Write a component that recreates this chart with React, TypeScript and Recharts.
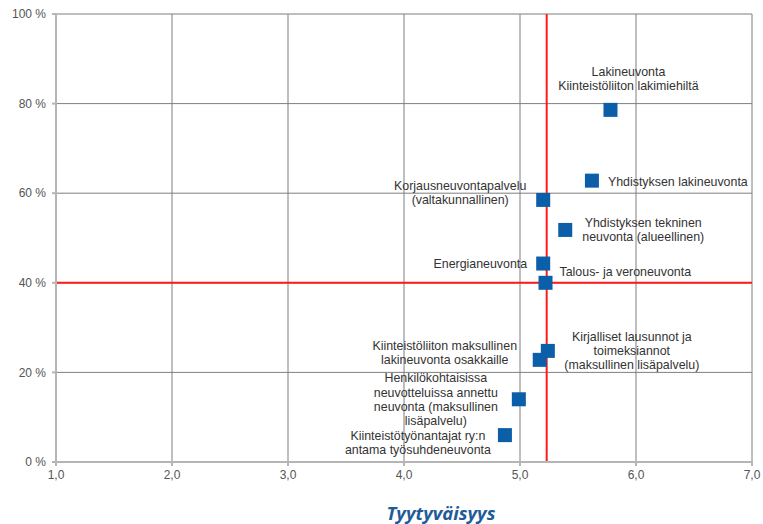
import React from 'react';
import { ScatterChart, Scatter, XAxis, YAxis, CartesianGrid, ReferenceLine, ZAxis } from 'recharts';

const services = [
  'Lakineuvonta Kiinteistöliiton lakimiehiltä',
  'Yhdistyksen lakineuvonta',
  'Korjausneuvontapalvelu (valtakunnallinen)',
  'Yhdistyksen tekninen neuvonta (alueellinen)',
  'Energianeuvonta',
  'Talous- ja veroneuvonta',
  'Kirjalliset lausunnot ja toimeksiannot (maksullinen lisäpalvelu)',
  'Kiinteistöliiton maksullinen lakineuvonta osakkaille',
  'Henkilökohtaisissa neuvotteluissa annettu neuvonta (maksullinen lisäpalvelu)',
  'Kiinteistötyönantajat ry:n antama työsuhdeneuvonta',
];
const satisfaction = [5.78, 5.62, 5.2, 5.39, 5.2, 5.22, 5.24, 5.17, 4.99, 4.87];
const usagePct = [78.6, 62.8, 58.5, 51.8, 44.3, 40.0, 24.8, 22.8, 14.0, 6.0];
const labelLines = [
  ['Lakineuvonta', 'Kiinteistöliiton lakimiehiltä'],
  ['Yhdistyksen lakineuvonta'],
  ['Korjausneuvontapalvelu', '(valtakunnallinen)'],
  ['Yhdistyksen tekninen', 'neuvonta (alueellinen)'],
  ['Energianeuvonta'],
  ['Talous- ja veroneuvonta'],
  ['Kirjalliset lausunnot ja', 'toimeksiannot', '(maksullinen lisäpalvelu)'],
  ['Kiinteistöliiton maksullinen', 'lakineuvonta osakkaille'],
  ['Henkilökohtaisissa', 'neuvotteluissa annettu', 'neuvonta (maksullinen', 'lisäpalvelu)'],
  ['Kiinteistötyönantajat ry:n', 'antama työsuhdeneuvonta'],
];
const xTicks = [1, 2, 3, 4, 5, 6, 7];
const yTicks = [0, 20, 40, 60, 80, 100];
const satisfactionMean = 5.23;
const usageMean = 40;
const xTitle = 'Tyytyväisyys';

// label placement relative to each marker (layout only)
const labelLayout: { anchor: 'start' | 'middle' | 'end'; dx: number; dy: number }[] = [
  { anchor: 'middle', dx: 18, dy: -38 },
  { anchor: 'start', dx: 16, dy: 1 },
  { anchor: 'middle', dx: -83, dy: -14 },
  { anchor: 'middle', dx: 78, dy: -7 },
  { anchor: 'end', dx: -16, dy: 0 },
  { anchor: 'start', dx: 14, dy: -11 },
  { anchor: 'middle', dx: 84, dy: -14 },
  { anchor: 'middle', dx: -95, dy: -14 },
  { anchor: 'middle', dx: -83, dy: -21 },
  { anchor: 'middle', dx: -87, dy: 1 },
];

const data = services.map((name, i) => ({
  name,
  x: satisfaction[i],
  y: usagePct[i],
  idx: i,
}));

const FONT = '"Liberation Sans", Arial, sans-serif';
const LINE_H = 14.3;

const PointShape = (props: any) => {
  const { cx, cy, payload } = props;
  const i = payload.idx;
  const lay = labelLayout[i];
  const lines = labelLines[i];
  return (
    <g>
      <rect x={cx - 7} y={cy - 7} width={14} height={14} fill="#0b5ea8" />
      <text
        x={cx + lay.dx}
        y={cy + lay.dy}
        textAnchor={lay.anchor}
        fontFamily={FONT}
        fontSize={12.4}
        fill="#333"
      >
        {lines.map((l, k) => (
          <tspan key={k} x={cx + lay.dx} y={cy + lay.dy + k * LINE_H} dominantBaseline="central">
            {l}
          </tspan>
        ))}
      </text>
    </g>
  );
};

const XTitle = (props: any) => {
  const { viewBox } = props;
  return (
    <text
      x={441}
      y={viewBox.y + 50}
      textAnchor="middle"
      fontFamily='"Open Sans", "Noto Sans", sans-serif'
      fontStyle="italic"
      fontWeight="bold"
      fontSize={18.5}
      fill="#1f5b9a"
      dominantBaseline="central"
    >
      {xTitle}
    </text>
  );
};

export default function App() {
  return (
    <div style={{ position: 'absolute', left: 0, top: 0, background: '#fff' }}>
      <ScatterChart width={763} height={524} margin={{ top: 14, right: 11, bottom: 32, left: 0 }}>
        <CartesianGrid stroke="#7f7f7f" strokeWidth={1} />
        <XAxis
          type="number"
          dataKey="x"
          domain={[1, 7]}
          ticks={xTicks}
          interval={0}
          height={30}
          tickFormatter={(v: number) => v.toFixed(1).replace('.', ',')}
          tick={{ fontSize: 12, fill: '#555', fontFamily: FONT }}
          stroke="#b5b5b5"
          strokeWidth={2}
          tickSize={4}
          tickMargin={4}
          label={<XTitle />}
        />
        <YAxis
          type="number"
          dataKey="y"
          domain={[0, 100]}
          ticks={yTicks}
          interval={0}
          width={56}
          tickFormatter={(v: number) => `${v} %`}
          tick={{ fontSize: 12, fill: '#555', fontFamily: FONT }}
          stroke="#b5b5b5"
          strokeWidth={2}
          tickSize={4}
          tickMargin={6}
        />
        <ZAxis range={[196, 196]} />
        <ReferenceLine x={satisfactionMean} stroke="#ff1a1a" strokeWidth={2} />
        <ReferenceLine y={usageMean} stroke="#ff1a1a" strokeWidth={2} />
        <Scatter data={data} shape={<PointShape />} isAnimationActive={false} />
      </ScatterChart>
    </div>
  );
}
